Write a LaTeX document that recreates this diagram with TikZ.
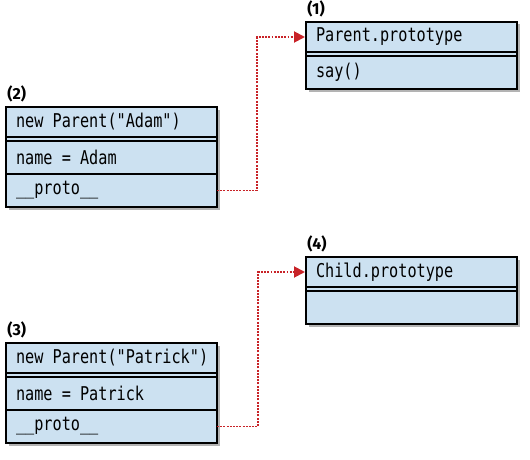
\documentclass[tikz,border=0pt]{standalone}
\usepackage{fontspec}
\setmonofont[FakeStretch=0.8]{DejaVu Sans Mono}
\setsansfont{Fira Sans}
\usetikzlibrary{arrows.meta,
                positioning,
                fit, backgrounds, shadows}
\definecolor{slotblue}{RGB}{204,225,241}
\definecolor{linkred}{RGB}{200,35,40}
\tikzset{boxrow/.style={draw, line width=1.8pt, outer sep=0pt,
    minimum width=211pt, minimum height=33pt, text width=211pt,
    inner xsep=0pt, inner ysep=0pt, align=left,
    execute at begin node={\spaceskip=\fontcharwd\font`x\relax\hspace*{10pt}},
    font=\fontsize{19}{21}\selectfont\ttfamily},
    boxhead/.style={boxrow, minimum height=30pt},
    objbox/.style={draw, line width=1.8pt, fill=slotblue, inner sep=0pt,
    drop shadow={shadow xshift=2.5pt, shadow yshift=-2.5pt, opacity=0.6}},
    tag/.style={font=\fontsize{16}{18}\selectfont\sffamily\bfseries,
    inner sep=0pt, anchor=south west},
    link/.style={linkred, line width=1.9pt, dash pattern=on 1.9pt off 1.3pt,
    -{Triangle[length=11pt,width=11pt]}, shorten >=1pt}}

\begin{document}
\begin{tikzpicture}[x=1pt, y=1pt]
        \useasboundingbox (0,0) rectangle (530,459);
        \node[boxhead, anchor=north west] (parent) at (306,437) {Parent.prototype};
        \node[boxrow, below=4pt of parent] (say) {say()};
        \node[boxhead, anchor=north west] (adam) at (6,352) {new Parent("Adam")};
        \node[boxrow, below=4pt of adam] (adamname) {name = Adam};
        \node[boxrow, below=0pt of adamname] (adamproto) {\_\_proto\_\_};
        \node[boxhead, anchor=north west] (child) at (306,202) {Child.prototype};
        \node[boxrow, below=4pt of child] (childbody) {};
        \node[boxhead, anchor=north west] (patrick) at (6,116) {new Parent("Patrick")};
        \node[boxrow, below=4pt of patrick] (patrickname) {name = Patrick};
        \node[boxrow, below=0pt of patrickname] (patrickproto) {\_\_proto\_\_};
        \begin{scope}[on background layer]
            \node[objbox, fit=(parent)(say)] (parentbox) {};
            \node[objbox, fit=(adam)(adamproto)] (adambox) {};
            \node[objbox, fit=(child)(childbody)] (childbox) {};
            \node[objbox, fit=(patrick)(patrickproto)] (patrickbox) {};
        \end{scope}
        \node[tag] (tag1) at ([shift={(2pt,4pt)}]parentbox.north west) {(1)};
        \node[tag] (tag2) at ([shift={(2pt,4pt)}]adambox.north west) {(2)};
        \node[tag] (tag3) at ([shift={(2pt,4pt)}]patrickbox.north west) {(3)};
        \node[tag] (tag4) at ([shift={(2pt,4pt)}]childbox.north west) {(4)};
        \draw[link] (adamproto.east) -- ++(40,0) |- (parent.west);
        \draw[link] (patrickproto.east) -- ++(41,0) |- (child.west);
    \end{tikzpicture}
\end{document}
